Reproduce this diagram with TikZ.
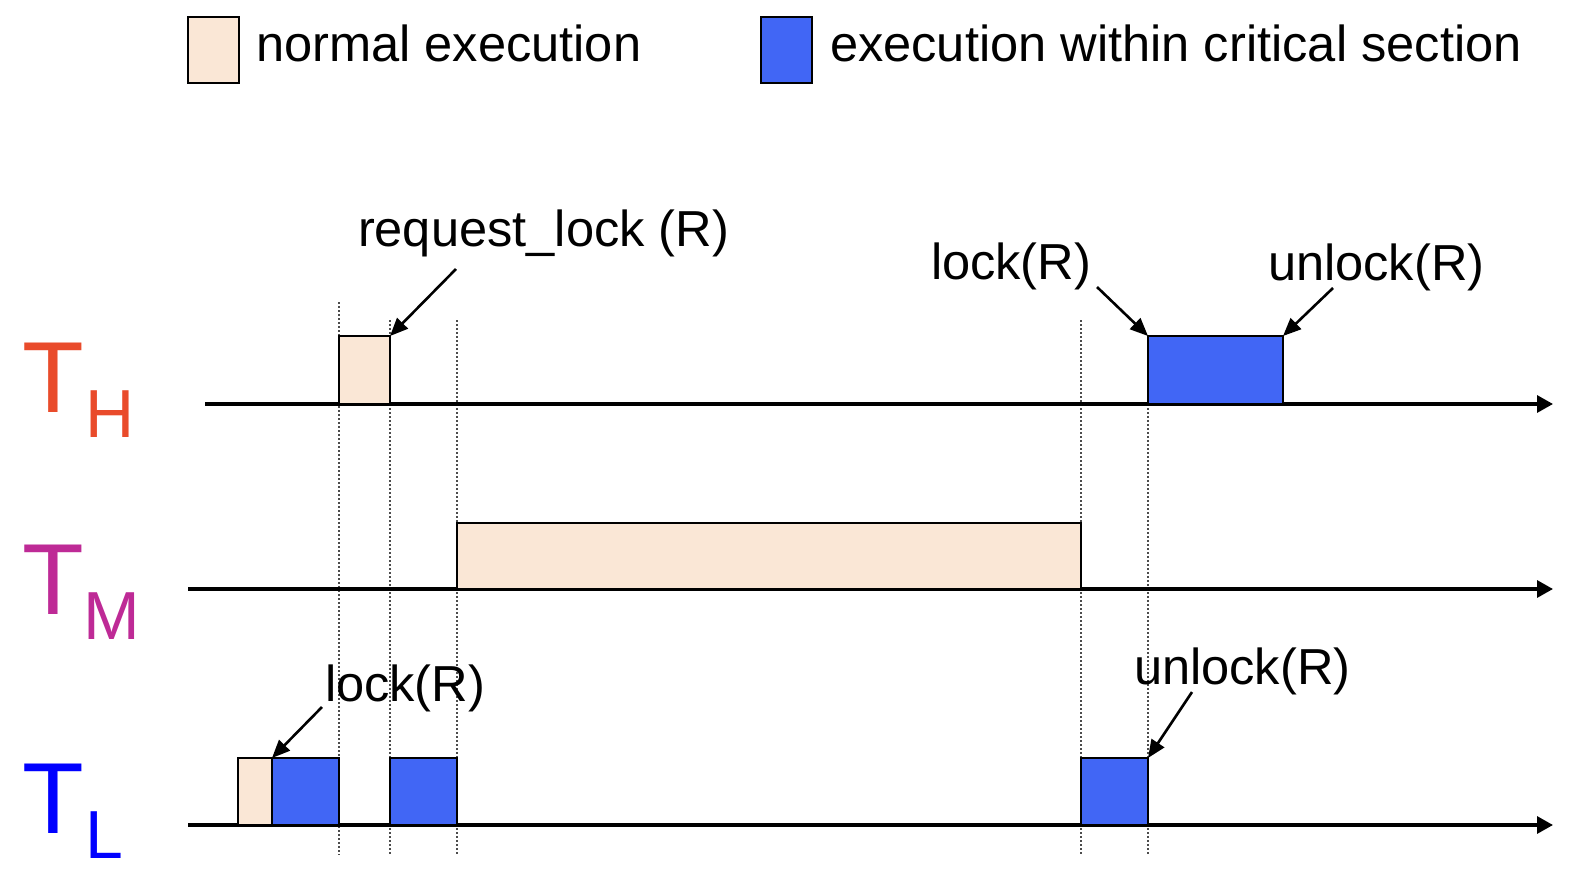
\documentclass[tikz,border=0pt]{standalone}
\usepackage{fontspec}
\setmainfont{Liberation Sans}
\usetikzlibrary{arrows.meta}
\definecolor{beige}{RGB}{250,231,214}
\definecolor{csblue}{RGB}{65,102,245}
\definecolor{thcol}{RGB}{233,75,43}
\definecolor{tmcol}{RGB}{190,42,150}
\definecolor{tlcol}{RGB}{0,0,255}
\begin{document}
\begin{tikzpicture}[x=1pt,y=-1pt,
  every node/.style={inner sep=0pt, outer sep=0pt},
  txt/.style={font=\fontsize{50.6}{60}\selectfont, anchor=base west},
  nbox/.style={draw=black, line width=2.2pt, fill=beige, anchor=south west},
  cbox/.style={draw=black, line width=2.2pt, fill=csblue, anchor=south west},
  axisline/.style={line width=3.2pt, -{Triangle[length=16pt,width=17pt]}},
  ann/.style={line width=2.6pt, -{Triangle[length=18pt,width=15pt]}},
  guide/.style={line width=2pt, dash pattern=on 2pt off 2pt, draw=black!70},
  bigT/.style={font=\fontsize{101}{110}\selectfont, anchor=base west},
  subT/.style={font=\fontsize{68}{78}\selectfont, anchor=base west}]
\useasboundingbox (0,0) rectangle (1590,876);

% legend
\node[nbox, minimum width=51pt, minimum height=66pt] (lgN) at (188,83) {};
\node[txt] (lgNt) at (256,61) {normal execution};
\node[cbox, minimum width=51pt, minimum height=66pt] (lgC) at (761,83) {};
\node[txt] (lgCt) at (830,61) {execution within critical section};

% guides
\draw[guide] (339,302) -- (339,855);
\draw[guide] (390,320) -- (390,855);
\draw[guide] (457,320) -- (457,855);
\draw[guide] (1081,320) -- (1081,855);
\draw[guide] (1148,336) -- (1148,855);

% axes
\coordinate (thS) at (205,404); \coordinate (thE) at (1553,404);
\coordinate (tmS) at (188,589); \coordinate (tmE) at (1553,589);
\coordinate (tlS) at (188,825); \coordinate (tlE) at (1553,825);
\draw[axisline] (thS) -- (thE);
\draw[axisline] (tmS) -- (tmE);
\draw[axisline] (tlS) -- (tlE);

% thread labels
\node[bigT, text=thcol] (thT) at (23,412) {T};
\node[subT, text=thcol] (thH) at (85,437) {H};
\node[bigT, text=tmcol] (tmT) at (23,614) {T};
\node[subT, text=tmcol] (tmM) at (83,639) {M};
\node[bigT, text=tlcol] (tlT) at (23,833) {T};
\node[subT, text=tlcol] (tlL) at (85,858) {L};

% boxes
\node[nbox, minimum width=51pt, minimum height=68pt] (thN) at (339,404) {};
\node[cbox, minimum width=135pt, minimum height=68pt] (thC) at (1148,404) {};
\node[nbox, minimum width=624pt, minimum height=66pt] (tmN) at (457,589) {};
\node[nbox, minimum width=34pt, minimum height=67pt] (tlN) at (238,825) {};
\node[cbox, minimum width=67pt, minimum height=67pt] (tlC1) at (272,825) {};
\node[cbox, minimum width=67pt, minimum height=67pt] (tlC2) at (390,825) {};
\node[cbox, minimum width=67pt, minimum height=67pt] (tlC3) at (1081,825) {};

% annotations
\node[txt] (reqL) at (358,246) {request\_lock (R)};
\node[txt] (lockH) at (931,279) {lock(R)};
\node[txt] (unlockH) at (1268,280) {unlock(R)};
\node[txt] (lockL) at (325,701) {lock(R)};
\node[txt] (unlockL) at (1134,684) {unlock(R)};

\coordinate (a1) at (456,269);
\coordinate (a2) at (1097,287);
\coordinate (a3) at (1333,288);
\coordinate (a4) at (322,707);
\coordinate (a5) at (1192,692);
\draw[ann] (a1) -- (thN.north east);
\draw[ann] (a2) -- (thC.north west);
\draw[ann] (a3) -- (thC.north east);
\draw[ann] (a4) -- (tlC1.north west);
\draw[ann] (a5) -- (tlC3.north east);
\end{tikzpicture}
\end{document}
